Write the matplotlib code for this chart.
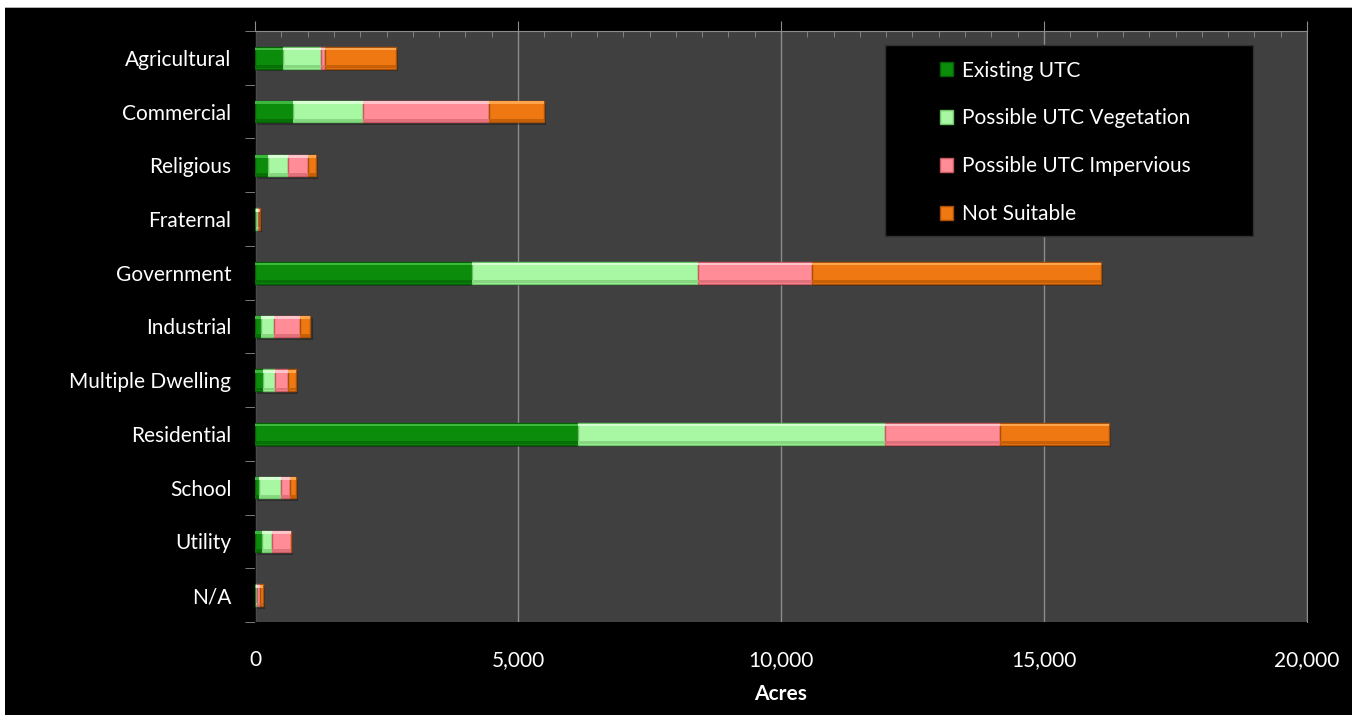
import numpy as np
import matplotlib
matplotlib.use("Agg")
import matplotlib.pyplot as plt
from matplotlib.patches import Patch, Rectangle
from matplotlib.ticker import MultipleLocator, FuncFormatter

categories = ["Agricultural", "Commercial", "Religious", "Fraternal", "Government",
              "Industrial", "Multiple Dwelling", "Residential", "School", "Utility", "N/A"]
series = ["Existing UTC", "Possible UTC Vegetation", "Possible UTC Impervious", "Not Suitable"]

existing = [540, 730, 240, 10, 4125, 115, 145, 6140, 75, 125, 15]
vegetation = [710, 1330, 380, 45, 4300, 245, 235, 5840, 410, 190, 25]
impervious = [75, 2395, 380, 15, 2165, 505, 255, 2185, 175, 370, 55]
not_suitable = [1355, 1045, 160, 20, 5495, 190, 145, 2070, 115, 0, 55]

colors = ["#0b8c0b", "#a8f7a2", "#ff8c96", "#f07812"]
edges = ["#056005", "#6cc266", "#c95a63", "#a84f08"]
lights = ["#3cb83c", "#d6ffd2", "#ffc4c9", "#ffa54d"]
darks = ["#077007", "#86d880", "#e0707a", "#c86008"]

fig = plt.figure(figsize=(13.52, 7.15), dpi=100, facecolor="black")
plt.rcParams["font.family"] = ["Lato", "DejaVu Sans"]

# white border strips of the screenshot
fig.patches.append(Rectangle((0, 1 - 7 / 715), 1, 7 / 715, transform=fig.transFigure,
                             facecolor="white", edgecolor="none", zorder=0))
fig.patches.append(Rectangle((0, 0), 5 / 1352, 1, transform=fig.transFigure,
                             facecolor="white", edgecolor="none", zorder=0))
fig.patches.append(Rectangle((5 / 1352, 1 - 8 / 715), 1, 1 / 715, transform=fig.transFigure,
                             facecolor="#b0b0b0", edgecolor="none", zorder=0))

ax = fig.add_axes([255 / 1352, 93 / 715, 1052 / 1352, 591 / 715])
ax.set_facecolor("#404040")

y = np.arange(len(categories))
data = [existing, vegetation, impervious, not_suitable]
h = 0.4
left = np.zeros(len(categories))
totals = np.sum(data, axis=0)

# soft drop shadow
ax.barh(y + 0.05, totals, height=h, left=40, color="black", alpha=0.3, zorder=2)

for vals, c, ec, lc, dc, name in zip(data, colors, edges, lights, darks, series):
    vals = np.array(vals, dtype=float)
    ax.barh(y, vals, height=h, left=left, color=c, edgecolor=ec, linewidth=1,
            zorder=3, label=name)
    # bevel: light strip on top, darker strip at the bottom
    ax.barh(y - h / 2 + 0.035, vals, height=0.05, left=left, color=lc,
            edgecolor="none", zorder=4)
    ax.barh(y + h / 2 - 0.035, vals, height=0.05, left=left, color=dc,
            edgecolor="none", zorder=4)
    left += vals

ax.set_xlim(0, 20000)
ax.set_ylim(len(categories) - 0.5, -0.5)

ax.set_yticks(y)
ax.set_yticklabels(categories)
ax.set_yticks(np.arange(-0.5, len(categories)), minor=True)
ax.tick_params(axis="y", which="major", length=0, labelsize=15, labelcolor="white", pad=17)
ax.tick_params(axis="y", which="minor", length=7, color="#8c8c8c", direction="out")

ax.xaxis.set_major_locator(MultipleLocator(5000))
ax.xaxis.set_minor_locator(MultipleLocator(500))
ax.xaxis.set_major_formatter(FuncFormatter(lambda v, p: f"{int(v):,}"))
ax.tick_params(axis="x", which="major", top=True, bottom=False, labeltop=False,
               labelbottom=True, direction="out", length=7, color="#8c8c8c",
               labelsize=15, labelcolor="white", pad=13)
ax.tick_params(axis="x", which="minor", top=True, bottom=False, direction="in",
               length=4, color="#8c8c8c")
ax.grid(axis="x", which="major", color="#8c8c8c", linewidth=1, zorder=1)
ax.set_axisbelow(True)

ax.spines["top"].set_color("#8c8c8c")
ax.spines["right"].set_color("#8c8c8c")
ax.spines["left"].set_color("#111111")
ax.spines["bottom"].set_visible(False)

ax.set_xlabel("Acres", color="white", fontsize=15, fontweight="bold", labelpad=10)

# legend box
fig.patches.append(Rectangle((885 / 1352, 1 - 236 / 715), 368 / 1352, 191 / 715,
                             transform=fig.transFigure, facecolor="black",
                             edgecolor="#303030", zorder=5))
handles = [Patch(facecolor=c, edgecolor=ec) for c, ec in zip(colors, edges)]
leg = fig.legend(handles, series, loc="upper left",
                 bbox_to_anchor=(921 / 1352, 1 - 42 / 715), frameon=False,
                 fontsize=15, labelcolor="white", handlelength=0.65, handleheight=0.65,
                 handletextpad=0.4, labelspacing=1.33)
leg.set_zorder(6)

fig.savefig("out.png", dpi=100, facecolor=fig.get_facecolor())
